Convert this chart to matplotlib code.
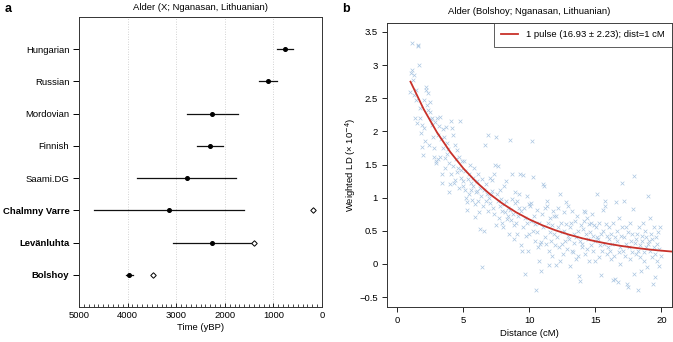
import numpy as np
import matplotlib
matplotlib.use("Agg")
import matplotlib.pyplot as plt
from matplotlib.ticker import FuncFormatter, MultipleLocator

plt.rcParams['font.family'] = ['Liberation Sans', 'DejaVu Sans']

# ---------------- Panel a data ----------------
populations = ["Hungarian", "Russian", "Mordovian", "Finnish", "Saami.DG",
               "Chalmny Varre", "Levänluhta", "Bolshoy"]
bold_labels = [False, False, False, False, False, True, True, True]
time_est = [760, 1117, 2257, 2305, 2784, 3148, 2257, 3964]
time_lo = [590, 932, 1735, 2031, 1770, 1598, 1399, 3895]
time_hi = [932, 1290, 2771, 2566, 3800, 4691, 3059, 4033]
sample_age = [None, None, None, None, None, 191, 1399, 3471]

# ---------------- Panel b data ----------------
bin_starts = list(range(1, 20))
ld_rows = [
    [2.60, 2.88, 2.93, 3.34, 2.78, 2.85, 2.55, 2.20, 2.62, 2.48, 2.13, 3.31, 3.29, 3.00, 2.36, 2.20, 1.97, 2.10, 1.77, 1.65],
    [2.05, 2.48, 1.85, 2.62, 2.67, 2.40, 2.58, 2.32, 1.80, 2.45, 2.30, 2.18, 2.10, 2.20, 1.92, 1.75, 1.62, 2.14, 1.56, 1.52],
    [2.20, 1.58, 1.95, 2.08, 1.62, 2.21, 1.88, 1.22, 1.35, 1.75, 2.04, 1.92, 1.60, 1.45, 2.06, 1.66, 1.82, 1.74, 1.52, 1.08],
    [1.20, 2.15, 1.35, 2.05, 1.94, 1.48, 1.22, 1.80, 1.27, 1.58, 1.38, 1.72, 1.45, 1.15, 1.62, 2.16, 1.30, 1.42, 1.55, 1.25],
    [1.18, 1.55, 1.12, 1.40, 1.00, 0.93, 0.82, 1.28, 1.36, 1.05, 1.50, 1.22, 1.12, 0.96, 1.30, 1.18, 1.45, 0.90, 0.71, 1.08],
    [1.10, 1.25, 0.95, 1.35, 0.78, 0.52, 1.15, 1.02, -0.04, 1.28, 0.88, 1.12, 0.50, 1.80, 0.95, 1.20, 1.05, 1.95, 0.80, 1.00],
    [0.92, 1.30, 1.05, 1.26, 1.10, 0.85, 0.75, 1.35, 1.50, 0.58, 1.92, 1.05, 1.48, 0.95, 0.70, 0.88, 1.12, 0.98, 0.62, 0.80],
    [0.55, 0.90, 1.18, 0.78, 0.95, 1.25, 0.68, 0.85, 0.72, 0.45, 0.82, 1.87, 0.66, 0.98, 1.36, 0.75, 0.38, 0.58, 1.08, 0.92],
    [0.62, 0.95, 0.45, 0.72, 0.85, 1.05, 1.36, 0.80, 0.28, 0.20, 1.34, 0.55, 0.85, -0.15, 0.70, 0.42, 1.02, 0.62, 0.20, 0.90],
    [0.45, 0.88, 0.65, 0.92, 1.85, 0.50, 1.31, 0.72, 0.35, 0.60, -0.39, 0.82, 0.48, 0.25, 0.62, 0.05, 0.30, -0.10, 0.33, 0.75],
    [1.20, 0.55, 1.18, 0.40, 0.85, 0.30, 0.95, 0.88, 0.62, 0.20, -0.02, 0.48, 0.70, 0.35, 0.58, 0.12, 0.80, 0.45, 0.72, 0.28],
    [-0.02, 0.72, 0.40, 0.55, 0.85, 0.25, 1.06, 0.04, 0.62, 0.30, 0.48, 0.15, 0.78, 0.50, 0.35, 0.93, 0.60, 0.22, 0.88, 0.42],
    [0.38, -0.03, 0.55, 0.62, 0.20, 0.80, 0.18, 0.45, 0.32, 0.65, 0.40, 0.08, 0.72, 0.12, 0.50, -0.18, -0.26, 0.35, 0.58, 0.25],
    [0.30, 0.52, 0.65, 0.80, 0.78, 0.15, 0.45, 0.70, 0.22, 0.38, 0.60, 0.05, 0.48, 0.28, 0.62, 0.75, 0.20, 0.42, 0.58, 0.05],
    [0.35, 0.55, 1.06, 0.40, 0.38, 0.10, 0.62, 0.28, -0.16, 0.45, 0.20, 0.82, 0.50, 0.30, 0.95, 0.88, 0.60, 0.15, 0.42, 0.25],
    [0.38, 0.55, 0.20, 0.08, 0.45, 0.30, -0.25, 0.62, 0.12, 0.40, -0.22, 0.94, 0.35, 0.50, -0.28, 0.18, 0.70, 0.25, 0.00, 0.42],
    [0.55, 1.22, 0.20, 0.95, 0.40, 0.12, 0.30, 0.55, -0.30, -0.35, 0.48, 0.25, 0.08, 0.62, 0.35, 0.18, 0.45, 0.83, 1.32, -0.15],
    [0.32, 0.38, 0.15, 0.45, 0.20, -0.39, 0.55, 0.28, 0.10, -0.10, 0.42, 0.35, 0.62, 0.18, 0.05, 0.50, 0.25, 0.40, -0.05, 0.30],
    [1.03, 0.35, 0.70, 0.20, 0.45, 0.10, 0.38, -0.30, 0.25, 0.55, 0.15, -0.20, 0.40, 0.30, 0.05, 0.48, 0.22, -0.03, 0.55, 0.12],
]
bin_width = 0.05

# fitted curve
fit_dist = [1, 2, 3, 4, 5, 6, 7, 8, 9, 10, 11, 12, 13, 14, 15, 16, 17, 18, 19, 20, 21]
fit_ld = [2.750, 2.336, 1.987, 1.692, 1.443, 1.233, 1.055, 0.906, 0.779, 0.672, 0.582,
          0.506, 0.442, 0.387, 0.342, 0.303, 0.270, 0.243, 0.219, 0.200, 0.183]
legend_label = "1 pulse (16.93 \u00b1 2.23); dist=1 cM"

W, H = 673, 342
fig = plt.figure(figsize=(W / 100, H / 100), dpi=100)

FS = 6.8
# ---------------- Panel a ----------------
axa = fig.add_axes([79 / W, 1 - 307 / H, 243 / W, 290 / H])
n = len(populations)
ypos = [n - i for i in range(n)]
for i in range(n):
    axa.plot([time_lo[i], time_hi[i]], [ypos[i], ypos[i]], color='#111111', lw=0.9, zorder=3)
    axa.plot(time_est[i], ypos[i], marker='o', ms=2.6, color='black', zorder=4)
    if sample_age[i] is not None:
        axa.plot(sample_age[i], ypos[i], marker='D', ms=2.8, mfc='white', mec='black',
                 mew=0.7, zorder=5)
axa.set_xlim(5000, 0)
axa.set_ylim(0, n + 1)
axa.set_xticks([5000, 4000, 3000, 2000, 1000, 0])
axa.xaxis.set_minor_locator(MultipleLocator(100))
axa.set_yticks(ypos)
axa.set_yticklabels(populations)
for lbl, b in zip(axa.get_yticklabels(), bold_labels):
    if b:
        lbl.set_fontweight('bold')
for x in [4000, 3000, 2000, 1000]:
    axa.axvline(x, color='#c4c4c4', lw=0.6, ls=(0, (1, 2)), zorder=1)
axa.tick_params(axis='y', labelsize=FS, length=4, width=0.7, pad=3)
axa.tick_params(axis='x', which='major', labelsize=FS, length=3, width=0.6, pad=3, direction='in')
axa.tick_params(axis='x', which='minor', length=2, width=0.5, direction='in')
axa.set_xlabel("Time (yBP)", fontsize=FS, labelpad=2)
axa.set_title("Alder (X; Nganasan, Lithuanian)", fontsize=FS, pad=5)
for s in axa.spines.values():
    s.set_linewidth(0.7)
    s.set_color('#333333')

# ---------------- Panel b ----------------
axb = fig.add_axes([386.7 / W, 1 - 307 / H, 285.3 / W, (307 - 22.7) / H])
dist = []
ld = []
for start, row in zip(bin_starts, ld_rows):
    for j, v in enumerate(row):
        dist.append(start + j * bin_width)
        ld.append(v)
axb.scatter(dist, ld, marker='x', s=7, lw=0.5, color='#abc6e2', zorder=2)
axb.plot(fit_dist, fit_ld, color='#c8312a', lw=1.3, zorder=3, label=legend_label)
axb.set_xlim(-0.8, 20.8)
axb.set_ylim(-0.65, 3.64)
axb.set_xticks([0, 5, 10, 15, 20])
axb.set_yticks([-0.5, 0, 0.5, 1, 1.5, 2, 2.5, 3, 3.5])
axb.yaxis.set_major_formatter(FuncFormatter(lambda v, p: ("%g" % v).replace('-', '\u2212')))
axb.tick_params(labelsize=FS, length=3.5, width=0.6, pad=3)
axb.set_xlabel("Distance (cM)", fontsize=FS, labelpad=3)
axb.set_ylabel("Weighted LD (\u00d7 10$^{\u22124}$)", fontsize=FS, labelpad=1)
axb.set_title("Alder (Bolshoy; Nganasan, Lithuanian)", fontsize=FS, pad=6)
leg = axb.legend(loc='upper right', fontsize=FS, frameon=True, fancybox=False,
                 borderpad=0.8, handlelength=1.8, borderaxespad=0)
leg.get_frame().set_edgecolor('#333333')
leg.get_frame().set_linewidth(0.7)
for s in axb.spines.values():
    s.set_linewidth(0.7)
    s.set_color('#333333')

fig.text(5 / W, 1 - 9 / H, "a", fontsize=9, fontweight='bold', va='center')
fig.text(342 / W, 1 - 9 / H, "b", fontsize=9, fontweight='bold', va='center')

fig.savefig("out.png", dpi=100)
